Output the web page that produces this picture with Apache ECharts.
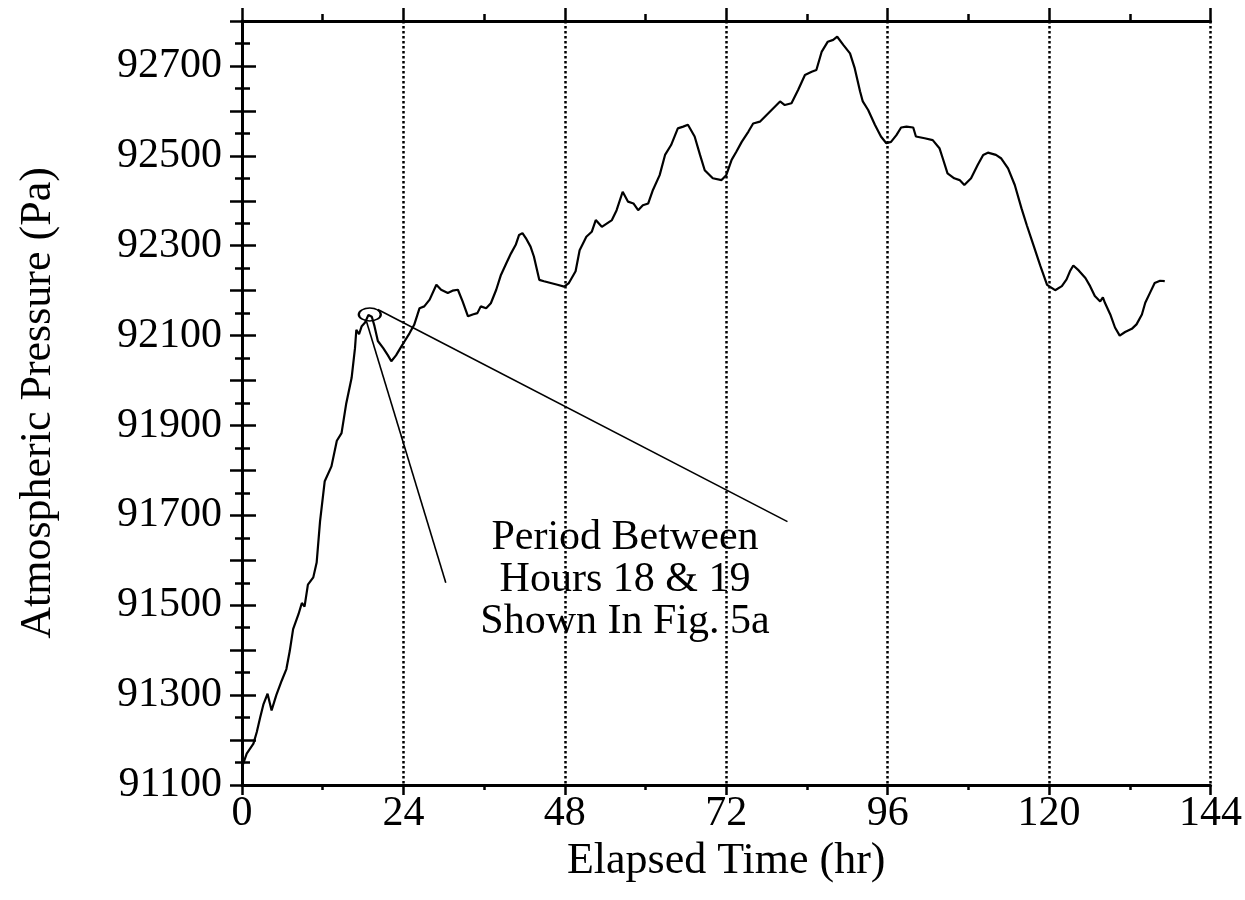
<!DOCTYPE html>
<html lang="en">
	<head>
		<meta charset="utf-8">
		<title>Atmospheric Pressure</title>
		<style>
			html, body { margin: 0; padding: 0; background: #fff; }
		</style>
	</head>
	<body>
		<!-- chart container, same size as the window -->
		<div id="main" style="width: 1245px; height: 900px;"></div>

		<script src="https://cdn.jsdelivr.net/npm/echarts@6/dist/echarts.min.js"></script>
		<script>
			// elapsed time (hr) and pressure (Pa)
			var hours = [0.0, 0.7, 1.7, 2.2, 2.7, 3.2, 3.8, 4.4, 5.1, 5.9, 6.6, 7.1, 7.6, 8.4, 8.9, 9.3, 9.8, 10.6, 11.1, 11.6,
				12.3, 13.3, 14.1, 14.8, 15.5, 16.3, 16.8, 17.0, 17.4, 17.8, 18.3, 18.8, 19.3, 19.7, 20.2, 21.0, 21.7, 22.2, 22.9, 23.7,
				24.2, 24.9, 25.6, 26.4, 27.1, 27.9, 28.9, 29.6, 30.6, 31.3, 32.1, 32.8, 33.6, 34.3, 35.0, 35.5, 36.3, 37.0, 37.8, 38.5,
				39.3, 40.0, 40.7, 41.2, 41.7, 42.2, 42.9, 43.4, 44.2, 44.9, 45.9, 46.9, 47.9, 48.6, 49.6, 50.2, 51.2, 52.0, 52.6, 53.5,
				55.0, 55.7, 56.6, 57.4, 58.2, 58.9, 59.6, 60.4, 61.1, 62.1, 62.9, 63.8, 64.8, 65.6, 66.3, 67.3, 68.1, 68.8, 70.0, 71.3,
				72.0, 72.8, 73.5, 74.3, 75.3, 76.0, 77.0, 78.0, 79.0, 80.0, 80.7, 81.7, 82.7, 83.7, 84.7, 85.4, 86.2, 87.1, 87.9, 88.5,
				89.4, 90.4, 91.1, 91.9, 92.3, 93.1, 94.1, 95.0, 95.8, 96.5, 97.3, 98.0, 98.8, 99.8, 100.2, 101.5, 102.7, 103.7, 104.2, 104.9,
				105.9, 106.7, 107.4, 108.4, 109.4, 110.2, 110.9, 112.1, 112.9, 113.9, 114.9, 115.9, 116.7, 117.7, 118.7, 119.7, 120.9, 121.9, 122.6, 123.1,
				123.6, 124.4, 125.4, 126.1, 126.8, 127.6, 128.0, 128.3, 129.1, 129.8, 130.5, 131.3, 132.3, 133.0, 133.8, 134.3, 135.0, 135.7, 136.5, 137.2];
			var pressure = [91140, 91170, 91192, 91218, 91250, 91280, 91303, 91266, 91300, 91332, 91358, 91398, 91447, 91480, 91505, 91497, 91546, 91562, 91595, 91686,
				91776, 91809, 91866, 91883, 91949, 92006, 92072, 92113, 92103, 92121, 92129, 92146, 92142, 92121, 92088, 92072, 92056, 92043, 92056, 92076,
				92088, 92105, 92124, 92161, 92165, 92180, 92213, 92202, 92195, 92200, 92202, 92176, 92143, 92147, 92150, 92165, 92161, 92172, 92202, 92235,
				92261, 92283, 92302, 92324, 92328, 92317, 92298, 92276, 92224, 92221, 92217, 92213, 92209, 92217, 92243, 92290, 92320, 92331, 92357, 92342,
				92357, 92379, 92420, 92398, 92394, 92379, 92390, 92394, 92424, 92457, 92502, 92524, 92561, 92565, 92569, 92543, 92502, 92468, 92450, 92446,
				92457, 92491, 92509, 92531, 92554, 92572, 92576, 92591, 92606, 92621, 92613, 92617, 92647, 92680, 92687, 92691, 92732, 92754, 92758, 92765,
				92747, 92728, 92695, 92643, 92621, 92602, 92569, 92543, 92528, 92531, 92546, 92563, 92565, 92563, 92543, 92539, 92535, 92517, 92494, 92461,
				92450, 92446, 92435, 92450, 92480, 92502, 92507, 92502, 92494, 92472, 92435, 92383, 92345, 92300, 92255, 92213, 92201, 92210, 92225, 92243,
				92256, 92245, 92228, 92210, 92188, 92176, 92185, 92173, 92147, 92118, 92100, 92108, 92115, 92125, 92147, 92173, 92195, 92217, 92222, 92221];

			// axis ranges and labelled ticks
			var xTicks = [0, 24, 48, 72, 96, 120, 144];
			var yLabels = [91100, 91300, 91500, 91700, 91900, 92100, 92300, 92500, 92700];
			var yMin = 91100, yMax = 92800;

			// annotation: circled peak and the two pointer lines (data coordinates)
			var circlePoint = [19.0, 92147];
			var pointerA = [[18.5, 92132], [30.3, 91550]];
			var pointerB = [[20.2, 92158], [81.1, 91686]];
			var noteText = 'Period Between\nHours 18 & 19\nShown In Fig. 5a';

			var font = '"Liberation Serif", "Times New Roman", serif';

			var seriesData = hours.map(function (h, i) { return [h, pressure[i]]; });

			var myChart = echarts.init(document.getElementById('main'));

			var frame = { lineStyle: { color: '#000', width: 3 } };

			option = {
				animation: false,
				backgroundColor: '#fff',
				grid: { left: 242, right: 31, top: 21, bottom: 115 },
				xAxis: [{
					type: 'value',
					position: 'bottom',
					min: xTicks[0],
					max: xTicks[xTicks.length - 1],
					interval: 24,
					name: 'Elapsed Time (hr)',
					nameLocation: 'middle',
					nameGap: 52,
					nameTextStyle: { fontFamily: font, fontSize: 44, color: '#000' },
					axisLine: frame,
					axisTick: { show: true, inside: false, length: 10, lineStyle: { color: '#000', width: 2.5 } },
					minorTick: { show: true, splitNumber: 2, length: 5, lineStyle: { color: '#000', width: 2.5 } },
					axisLabel: { fontFamily: font, fontSize: 42, color: '#000', margin: 8 },
					splitLine: { show: true, lineStyle: { color: '#000', width: 2.5, type: [2.5, 2.5] } }
				}, {
					type: 'value',
					position: 'top',
					min: xTicks[0],
					max: xTicks[xTicks.length - 1],
					interval: 24,
					axisLine: frame,
					axisTick: { show: true, inside: false, length: 13, lineStyle: { color: '#000', width: 2.5 } },
					minorTick: { show: true, splitNumber: 2, length: 7, lineStyle: { color: '#000', width: 2.5 } },
					axisLabel: { show: false },
					splitLine: { show: false }
				}],
				yAxis: [{
					type: 'value',
					position: 'left',
					min: yMin,
					max: yMax,
					interval: 100,
					name: 'Atmospheric Pressure (Pa)',
					nameLocation: 'middle',
					nameGap: 182,
					nameTextStyle: { fontFamily: font, fontSize: 44, color: '#000' },
					axisLine: frame,
					axisTick: { show: true, inside: false, length: 12, lineStyle: { color: '#000', width: 2.5 } },
					minorTick: { show: true, splitNumber: 2, length: 7, lineStyle: { color: '#000', width: 2.5 } },
					axisLabel: {
						fontFamily: font, fontSize: 42, color: '#000', margin: 20,
						formatter: function (v) { return yLabels.indexOf(v) >= 0 ? String(v) : ''; }
					},
					splitLine: { show: false }
				}, {
					type: 'value',
					position: 'right',
					min: yMin,
					max: yMax,
					interval: 100,
					axisLine: frame,
					axisTick: { show: true, inside: false, length: 14, lineStyle: { color: '#000', width: 2.5 } },
					minorTick: { show: true, splitNumber: 2, length: 8, lineStyle: { color: '#000', width: 2.5 } },
					axisLabel: { show: false },
					splitLine: { show: false }
				}],
				series: [{
					name: 'Pressure',
					type: 'line',
					xAxisIndex: 0,
					yAxisIndex: 0,
					data: seriesData,
					showSymbol: false,
					lineStyle: { color: '#000', width: 2.2 },
					markPoint: {
						silent: true,
						data: [{
							coord: circlePoint,
							symbol: 'circle',
							symbolSize: [22, 13],
							itemStyle: { color: 'rgba(0,0,0,0)', borderColor: '#000', borderWidth: 1.8 },
							label: { show: false }
						}]
					},
					markLine: {
						silent: true,
						symbol: 'none',
						label: { show: false },
						lineStyle: { color: '#000', width: 1.6, type: 'solid' },
						data: [
							[{ coord: pointerA[0] }, { coord: pointerA[1] }],
							[{ coord: pointerB[0] }, { coord: pointerB[1] }]
						]
					}
				}],
				graphic: [{
					type: 'text',
					x: 625,
					y: 580,
					style: {
						text: noteText,
						font: '42px ' + font,
						fill: '#000',
						textAlign: 'center',
						textVerticalAlign: 'middle',
						lineHeight: 42
					}
				}]
			};

			myChart.setOption(option);
		</script>
	</body>
</html>
